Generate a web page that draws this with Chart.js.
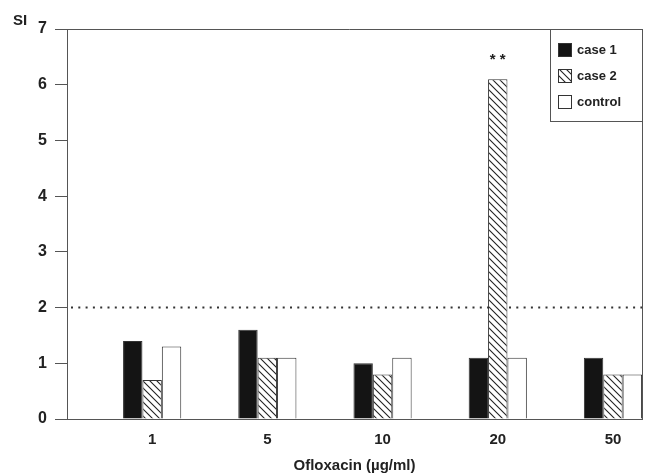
<!DOCTYPE html>
<html>
<head>
<meta charset="utf-8">
<script src="https://cdn.jsdelivr.net/npm/chart.js@4/dist/chart.umd.min.js"></script>
<style>
    body { margin: 0; background: #fff; }
    #wrap { width: 650px; height: 475px; }
</style>
</head>
<body>
<div id="wrap"><canvas id="chart"></canvas></div>
<script>
const categories = ['1', '5', '10', '20', '50'];
const case1 = [1.4, 1.6, 1.0, 1.1, 1.1];
const case2 = [0.7, 1.1, 0.8, 6.1, 0.8];
const control = [1.3, 1.1, 1.1, 1.1, 0.8];
const yTicks = [0, 1, 2, 3, 4, 5, 6, 7];
const threshold = 2;
const seriesNames = ['case 1', 'case 2', 'control'];

const ink = '#222';
const lineCol = '#555';

// diagonal hatch for case 2
function makeHatch() {
    const c = document.createElement('canvas');
    c.width = 7;
    c.height = 7;
    const g = c.getContext('2d');
    g.fillStyle = '#fff';
    g.fillRect(0, 0, 7, 7);
    g.strokeStyle = '#222';
    g.lineWidth = 1.1;
    g.beginPath();
    g.moveTo(-1, -1); g.lineTo(8, 8);
    g.moveTo(-1, 6); g.lineTo(1, 8);
    g.moveTo(6, -1); g.lineTo(8, 1);
    g.stroke();
    return g.createPattern(c, 'repeat');
}
const hatch = makeHatch();
const fills = ['#141414', hatch, '#fff'];

function points(values) {
    return values.map((v, i) => ({ x: i, y: v }));
}

const framePlugin = {
    id: 'frame',
    beforeDatasetsDraw(chart) {
        const { ctx, chartArea, scales } = chart;
        const y = scales.y.getPixelForValue(threshold);
        ctx.save();
        ctx.strokeStyle = '#333';
        ctx.lineWidth = 2;
        ctx.setLineDash([2, 5.3]);
        ctx.beginPath();
        ctx.moveTo(chartArea.left + 4, y);
        ctx.lineTo(chartArea.right, y);
        ctx.stroke();
        ctx.restore();
    },
    afterDraw(chart) {
        const { ctx, chartArea } = chart;
        ctx.save();
        ctx.strokeStyle = lineCol;
        ctx.lineWidth = 1;
        ctx.beginPath();
        ctx.moveTo(chartArea.left - 10, chartArea.top + 0.5);
        ctx.lineTo(chartArea.right + 0.5, chartArea.top + 0.5);
        ctx.lineTo(chartArea.right + 0.5, chartArea.bottom);
        ctx.stroke();

        // legend box
        const lx = chartArea.right - 92;
        ctx.strokeRect(lx + 0.5, chartArea.top + 0.5, 92, 92);
        ctx.font = 'bold 13px "Liberation Sans", Arial, sans-serif';
        ctx.textBaseline = 'middle';
        seriesNames.forEach((name, i) => {
            const cy = chartArea.top + 21 + i * 26;
            ctx.fillStyle = fills[i];
            ctx.fillRect(lx + 8, cy - 7, 14, 14);
            ctx.strokeStyle = '#333';
            ctx.strokeRect(lx + 8.5, cy - 6.5, 13, 13);
            ctx.fillStyle = ink;
            ctx.fillText(name, lx + 27, cy);
        });

        // significance mark over case 2 at 20
        const bar = chart.getDatasetMeta(1).data[3];
        ctx.font = 'bold 15px "Liberation Sans", Arial, sans-serif';
        ctx.textAlign = 'center';
        ctx.fillText('* *', bar.x, bar.y - 19);

        // y axis label
        ctx.font = 'bold 15px "Liberation Sans", Arial, sans-serif';
        ctx.textAlign = 'left';
        ctx.fillText('SI', 13, 21);
        ctx.restore();
    }
};

new Chart(document.getElementById('chart'), {
    type: 'bar',
    data: {
        datasets: [case1, case2, control].map((vals, i) => ({
            label: seriesNames[i],
            data: points(vals),
            backgroundColor: fills[i],
            borderColor: '#333',
            borderWidth: 1,
            barPercentage: 1,
            categoryPercentage: 0.505
        }))
    },
    options: {
        responsive: true,
        maintainAspectRatio: false,
        animation: false,
        layout: { padding: { top: 29, right: 8, left: 0, bottom: 0 } },
        plugins: {
            legend: { display: false },
            tooltip: { enabled: false }
        },
        scales: {
            x: {
                type: 'linear',
                offset: false,
                min: -0.739,
                max: 4.252,
                afterBuildTicks: (scale) => {
                    scale.ticks = categories.map((_, i) => ({ value: i }));
                },
                afterFit: (scale) => { scale.height = 56; },
                grid: { display: false },
                border: { display: true, color: lineCol, width: 1 },
                ticks: {
                    padding: 4,
                    color: ink,
                    font: { family: '"Liberation Sans", Arial, sans-serif', size: 15, weight: 'bold' },
                    callback: (v) => categories[v]
                },
                title: {
                    display: true,
                    text: 'Ofloxacin (µg/ml)',
                    color: ink,
                    padding: { top: 0, bottom: 0 },
                    font: { family: '"Liberation Sans", Arial, sans-serif', size: 15, weight: 'bold' }
                }
            },
            y: {
                min: 0,
                max: 7,
                afterBuildTicks: (scale) => {
                    scale.ticks = yTicks.map(v => ({ value: v }));
                },
                afterFit: (scale) => { scale.width = 67; },
                grid: {
                    drawOnChartArea: false,
                    drawTicks: true,
                    tickLength: 12,
                    color: lineCol
                },
                border: { display: true, color: lineCol, width: 1 },
                ticks: {
                    padding: 8,
                    color: ink,
                    font: { family: '"Liberation Sans", Arial, sans-serif', size: 16, weight: 'bold' }
                }
            }
        }
    },
    plugins: [framePlugin]
});
</script>
</body>
</html>
